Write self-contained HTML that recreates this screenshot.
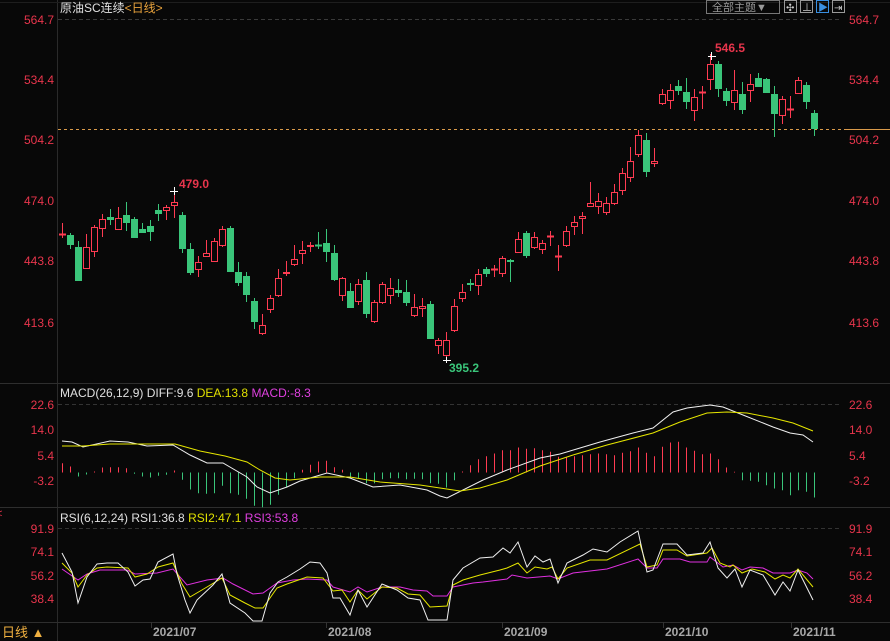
<!DOCTYPE html>
<html><head><meta charset="utf-8">
<style>
html,body{margin:0;padding:0;background:#080808;}
#wrap{position:relative;width:890px;height:641px;overflow:hidden;background:#080808;font-family:"Liberation Sans","Noto Sans CJK SC",sans-serif;}
svg{position:absolute;left:0;top:0;}
</style></head>
<body><div id="wrap">
<svg id="s" width="890" height="641" viewBox="0 0 890 641" xmlns="http://www.w3.org/2000/svg" font-family="Liberation Sans, Noto Sans CJK SC, sans-serif">
<!-- frames -->
<line x1="57.5" y1="0" x2="57.5" y2="641" stroke="#2a2a2a"/>
<line x1="0" y1="383.5" x2="890" y2="383.5" stroke="#2e2e2e"/>
<line x1="0" y1="507.5" x2="890" y2="507.5" stroke="#2e2e2e"/>
<line x1="0" y1="622.5" x2="890" y2="622.5" stroke="#2e2e2e"/>
<line x1="0" y1="2.5" x2="890" y2="2.5" stroke="#1e1e1e"/>
<!-- dashed grid top -->
<line x1="58" y1="19.5" x2="840" y2="19.5" stroke="#3a3a3a" stroke-dasharray="4,3"/>
<line x1="58" y1="404.5" x2="840" y2="404.5" stroke="#333" stroke-dasharray="4,3"/>
<line x1="58" y1="528.5" x2="840" y2="528.5" stroke="#333" stroke-dasharray="4,3"/>
<!-- current price line -->
<line x1="58" y1="129.5" x2="845" y2="129.5" stroke="#d99a4a" stroke-dasharray="3,3"/>
<line x1="845" y1="129.5" x2="890" y2="129.5" stroke="#d99a4a"/>
<!-- title -->
<text x="60" y="12" font-size="12" fill="#e0e0e0">原油SC连续<tspan fill="#e8a23c">&lt;日线&gt;</tspan></text>
<!-- toolbar -->
<rect x="706.5" y="0.5" width="73" height="13" fill="none" stroke="#777"/>
<text x="712" y="11" font-size="11" fill="#999">全部主题▼</text>
<rect x="784.5" y="0.5" width="12" height="12" fill="none" stroke="#999"/>
<text x="786" y="11" font-size="10" fill="#ccc">✣</text>
<rect x="800.5" y="0.5" width="12" height="12" fill="none" stroke="#999"/>
<text x="802" y="11" font-size="10" fill="#ccc">⊥</text>
<rect x="816.5" y="0.5" width="12" height="12" fill="none" stroke="#3a8fe0"/>
<text x="818" y="11" font-size="10" fill="#3a8fe0">▶</text>
<rect x="832.5" y="0.5" width="12" height="12" fill="none" stroke="#999"/>
<text x="834" y="11" font-size="10" fill="#ccc">⇥</text>
<g id="g"></g>
<!-- axis labels -->
<g font-size="12" fill="#e8354c">
<text x="54" y="24" text-anchor="end">564.7</text>
<text x="54" y="84" text-anchor="end">534.4</text>
<text x="54" y="144" text-anchor="end">504.2</text>
<text x="54" y="205" text-anchor="end">474.0</text>
<text x="54" y="265" text-anchor="end">443.8</text>
<text x="54" y="327" text-anchor="end">413.6</text>
<text x="849" y="24">564.7</text>
<text x="849" y="84">534.4</text>
<text x="849" y="144">504.2</text>
<text x="849" y="205">474.0</text>
<text x="849" y="265">443.8</text>
<text x="849" y="327">413.6</text>
<text x="54" y="409" text-anchor="end">22.6</text>
<text x="54" y="434" text-anchor="end">14.0</text>
<text x="54" y="460" text-anchor="end">5.4</text>
<text x="54" y="485" text-anchor="end">-3.2</text>
<text x="849" y="409">22.6</text>
<text x="849" y="434">14.0</text>
<text x="849" y="460">5.4</text>
<text x="849" y="485">-3.2</text>
<text x="54" y="533" text-anchor="end">91.9</text>
<text x="54" y="556" text-anchor="end">74.1</text>
<text x="54" y="580" text-anchor="end">56.2</text>
<text x="54" y="603" text-anchor="end">38.4</text>
<text x="849" y="533">91.9</text>
<text x="849" y="556">74.1</text>
<text x="849" y="580">56.2</text>
<text x="849" y="603">38.4</text>
<text x="-4" y="517" font-size="11">&lt;</text>
</g>
<text x="179" y="188" font-size="12" font-weight="bold" fill="#e8354c">479.0</text>
<text x="715" y="52" font-size="12" font-weight="bold" fill="#e8354c">546.5</text>
<text x="449" y="372" font-size="12" font-weight="bold" fill="#3ac57a">395.2</text>
<g stroke="#fff" stroke-width="1">
<line x1="170" y1="191.5" x2="178" y2="191.5"/><line x1="174.5" y1="187" x2="174.5" y2="195"/>
<line x1="708" y1="56.5" x2="716" y2="56.5"/><line x1="711.5" y1="52" x2="711.5" y2="60"/>
<line x1="443" y1="360.5" x2="451" y2="360.5"/><line x1="446.5" y1="357" x2="446.5" y2="363"/>
</g>
<text x="60" y="397" font-size="12" fill="#e0e0e0">MACD(26,12,9) DIFF:9.6 <tspan fill="#e0e000">DEA:13.8</tspan> <tspan fill="#e040e0">MACD:-8.3</tspan></text>
<text x="60" y="522" font-size="12" fill="#e0e0e0">RSI(6,12,24) RSI1:36.8 <tspan fill="#e0e000">RSI2:47.1</tspan> <tspan fill="#e040e0">RSI3:53.8</tspan></text>
<!-- bottom -->
<text x="2" y="637" font-size="13" fill="#f0b040">日线 ▲</text>
<g stroke="#333"><line x1="151.5" y1="622" x2="151.5" y2="628"/><line x1="326.5" y1="622" x2="326.5" y2="628"/><line x1="502.5" y1="622" x2="502.5" y2="628"/><line x1="663.5" y1="622" x2="663.5" y2="628"/><line x1="791.5" y1="622" x2="791.5" y2="628"/></g>
<g font-size="12" font-weight="bold" fill="#a8a8a8">
<text x="153" y="636">2021/07</text><text x="328" y="636">2021/08</text><text x="504" y="636">2021/09</text><text x="665" y="636">2021/10</text><text x="793" y="636">2021/11</text>
</g>
</svg>
</div>
<script>
var R="#ff3b52",G="#3ac57a";
// [color, wickTop, wickBot, bodyTop, bodyBot]
var C=[
["r",223,238,234,234],["g",233,249,235,245],["g",241,281,247,281],["r",234,269,247,269],["r",225,257,227,252],
["r",214,237,219,229],["g",209,225,217,220],["r",207,230,218,230],["g",202,231,215,223],["g",217,238,219,238],
["g",223,233,229,233],["g",220,241,226,232],["g",204,221,210,214],["r",205,220,207,211],["r",191,218,202,206],
["g",212,253,215,249],["g",243,275,249,273],["r",256,277,262,270],["r",240,257,253,257],["r",238,262,241,262],
["r",226,247,229,246],["g",226,272,228,272],["g",262,286,272,283],["g",272,302,276,295],["g",298,329,301,322],
["r",314,335,325,334],["r",295,313,298,310],["r",269,297,278,296],["r",261,276,272,274],["r",245,266,259,265],
["r",241,264,250,254],["r",242,252,245,247],["g",232,249,245,246],["g",229,262,243,252],["g",245,281,253,280],
["r",277,301,278,296],["g",283,308,291,308],["r",279,305,284,302],["g",272,318,280,314],["r",300,323,302,322],
["r",282,304,284,303],["r",278,304,288,296],["g",279,297,290,293],["g",280,306,292,303],["r",294,317,307,316],
["r",298,317,306,309],["g",301,339,304,339],["r",338,354,340,346],["r",332,360,340,356],["r",299,332,306,331],
["r",284,302,292,299],["g",279,291,283,285],["r",269,295,274,286],["g",267,277,269,274],["r",265,277,269,270],
["r",256,277,258,274],["g",259,282,260,262],["r",232,253,239,253],["g",231,258,233,256],["r",232,249,237,248],
["r",240,254,243,250],["r",231,246,236,237],["r",245,271,256,257],["r",226,247,231,246],["r",216,235,222,227],
["r",212,234,216,219],["r",182,207,203,207],["r",193,214,201,207],["r",197,215,203,213],["r",184,205,192,204],
["r",168,195,173,191],["r",147,182,161,178],["r",130,157,135,155],["g",133,177,140,172],["r",148,167,161,164],
["r",89,105,94,104],["r",84,109,90,101],["g",80,95,86,91],["g",78,109,92,102],["r",89,121,97,111],
["r",86,109,92,92],["r",54,90,64,80],["g",61,97,64,89],["g",88,106,91,101],["r",70,110,90,103],
["g",82,114,94,110],["r",74,102,84,91],["g",73,87,78,87],["g",78,93,79,93],["g",86,137,94,114],
["r",96,124,99,116],["r",96,118,109,110],["r",77,94,80,94],["g",82,109,85,102],["g",110,136,113,129]];
var H=[9.3,6,-4,-2,1,5,5.3,5.3,4.3,-1.3,-4,-5,-3.3,-2.3,2,-7.3,-17,-20.7,-21.3,-20.7,-13.3,-20.7,-22.3,-26.3,-33.3,-34.7,-32.3,-22.3,-14.7,-5.7,2.7,7.7,11,11.7,5.3,2.7,-5.7,-5.7,-10.7,-10.7,-6.7,-5.7,-5.7,-6.7,-6.3,-6.7,-10.7,-11.3,-15,-7.7,1,7.3,13.3,16.3,19,22.3,22.3,25,23.7,24.3,22.3,20.7,15.7,15,16.3,17.3,18.3,19,18.3,17.3,19.7,21.3,25,19.7,16.3,25.7,30,30.7,25,21.7,18.3,19,13.3,5,0.7,-7.7,-8.3,-9.3,-12.7,-16,-17.7,-22.7,-17.7,-19.3,-25];
var out="";
function X(i){return 62.3+i*8;}
// histogram
for(var i=0;i<H.length;i++){var x=Math.round(X(i))+0.5,h=H[i];
 out+='<line x1="'+x+'" x2="'+x+'" y1="472.5" y2="'+(472.5-h)+'" stroke="'+(h>0?R:G)+'"/>';}
// candles
for(var i=0;i<C.length;i++){var c=C[i],x=Math.round(X(i)),col=c[0]=="r"?R:G;
 var xc=x+0.5;
 out+='<line x1="'+xc+'" x2="'+xc+'" y1="'+c[1]+'" y2="'+c[2]+'" stroke="'+col+'"/>';
 var bt=c[3],bb=c[4];
 if(bb-bt<2){out+='<line x1="'+(x-3)+'" x2="'+(x+4)+'" y1="'+(bt+0.5)+'" y2="'+(bt+0.5)+'" stroke="'+col+'" stroke-width="2"/>';}
 else if(c[0]=="r"){out+='<rect x="'+(x-2.5)+'" y="'+(bt+0.5)+'" width="6" height="'+(bb-bt-1)+'" fill="#080808" stroke="'+col+'"/>';}
 else {out+='<rect x="'+(x-3)+'" y="'+bt+'" width="7" height="'+(bb-bt)+'" fill="'+col+'"/>';}
}
function pl(p,col){out+='<polyline fill="none" stroke="'+col+'" stroke-width="1" points="'+p+'"/>';}
pl("62,441 72,442 83,447 110,441 128,442 147,446 173,445 190,455 207,463 223,463 247,477 257,487 270,493 287,487 300,481 327,473 350,478 373,487 400,485 427,490 440,496 447,498 483,480 507,470 540,458 560,454 600,442 633,433 653,428 673,412 687,408 710,405 723,407 743,415 773,427 790,433 803,435 813,442","#f0f0f0");
pl("62,446 83,446 110,444 150,444 175,444 200,451 225,456 247,462 260,470 275,478 290,480 320,477 350,477 380,482 420,485 440,488 460,491 480,488 507,480 540,466 573,455 607,445 653,433 680,422 707,413 727,412 747,413 773,418 793,423 813,431","#e6e600");
pl("62,569 78,580 87,574 100,570 127,570 135,574 157,573 173,569 187,585 207,580 223,578 233,584 253,594 263,593 277,583 293,580 307,579 327,580 333,587 350,592 358,587 367,592 382,587 400,587 413,590 427,591 433,596 447,596 453,587 473,583 483,582 507,579 512,575 527,578 550,576 558,579 573,573 607,569 638,559 647,568 657,568 663,559 680,559 690,562 707,562 710,557 723,567 733,565 742,570 750,567 763,568 773,573 790,573 798,570 807,573 813,579","#e030e0");
pl("62,563 72,573 78,587 87,575 97,568 107,567 128,568 135,577 147,574 158,567 173,563 182,584 190,597 207,587 222,578 230,595 245,603 255,608 263,608 277,588 287,584 307,577 323,578 333,591 342,590 350,602 358,590 367,599 382,587 397,588 408,594 420,595 430,607 447,606 453,585 463,580 480,575 500,570 507,568 518,563 527,573 535,567 547,569 552,567 558,579 567,568 590,560 607,560 640,544 647,567 657,565 663,550 677,550 687,556 707,553 712,548 720,563 730,567 733,565 742,573 752,569 765,572 775,579 783,575 790,578 798,569 813,587","#e6e600");
pl("62,553 72,572 78,603 87,577 97,564 107,563 118,563 128,572 135,586 143,580 150,579 158,562 173,554 177,574 185,600 190,613 197,600 213,585 222,574 230,603 245,613 253,621 262,621 270,593 278,582 287,577 300,569 310,562 320,563 327,573 333,598 340,598 350,615 358,590 367,607 382,584 397,590 408,598 420,600 428,620 447,620 453,580 463,568 480,558 493,557 503,548 510,553 518,542 527,567 535,556 543,562 550,559 558,583 567,563 583,555 593,549 607,552 620,542 638,531 647,572 653,570 663,544 677,544 687,555 703,553 710,542 718,568 727,578 735,569 742,587 750,570 763,575 775,595 783,582 790,591 798,570 813,600","#f0f0f0");
document.getElementById("g").innerHTML=out;
</script>
</body></html>
